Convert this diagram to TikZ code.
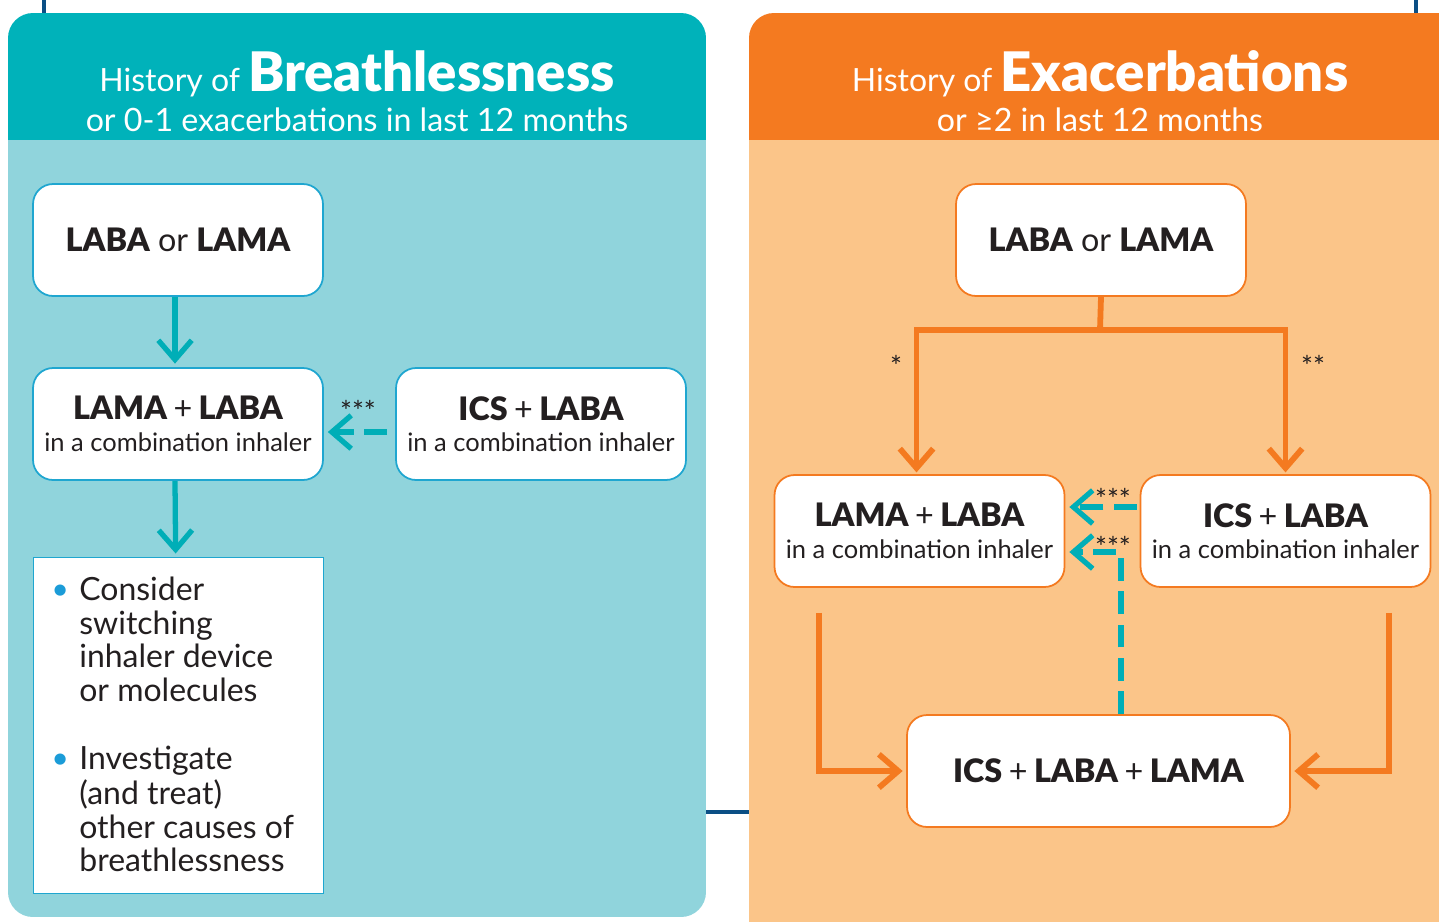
\documentclass[tikz,border=0pt]{standalone}
\usepackage{fontspec}
\setmainfont{Lato}
\IfFontExistsTF{Lato Black}{\newfontfamily\hvfam{Lato Black}}{\newfontfamily\hvfam{Lato}[UprightFont=*-Bold]}
\newcommand{\hv}[1]{{\hvfam #1}}
\usetikzlibrary{arrows.meta,calc}
\definecolor{tealH}{HTML}{00B2BA}
\definecolor{tealB}{HTML}{90D4DC}
\definecolor{orH}{HTML}{F47A20}
\definecolor{orB}{HTML}{FBC589}
\definecolor{tealA}{HTML}{00AEB7}
\definecolor{boxT}{HTML}{1FA6D0}
\definecolor{navy}{HTML}{0B4F85}
\definecolor{txt}{HTML}{231F20}
\definecolor{bul}{HTML}{1B9CD8}
\newcommand{\mybig}[1]{{\fontsize{18.4}{22}\selectfont #1}}
\newcommand{\mysmall}[1]{{\fontsize{14.5}{18}\selectfont #1}}
\newcommand{\pl}{\hspace{0.2em}+\hspace{0.2em}}
\begin{document}
\begin{tikzpicture}[x=0.02cm,y=-0.02cm,
  tbox/.style={draw=boxT, line width=1pt, fill=white, rounded corners=0.4cm, minimum width=5.8cm, minimum height=2.24cm, align=center, text=txt, inner sep=0pt},
  obox/.style={tbox, draw=orH},
  tarrow/.style={draw=tealA, line width=3pt, -{Straight Barb[length=11pt,width=19pt]}},
  tdash/.style={tarrow, dash pattern=on 13pt off 6pt},
  oarrow/.style={draw=orH, line width=3.3pt, line join=miter, -{Straight Barb[length=11pt,width=19pt]}},
  oline/.style={draw=orH, line width=3.3pt},
  star/.style={text=txt, font=\fontsize{16}{16}\selectfont, inner sep=0pt},
  htxt/.style={text=white, anchor=base, inner sep=0pt}
]
\useasboundingbox (0,0) rectangle (1439,921);
% navy lines
\draw[navy, line width=2.3pt] (44,0) -- (44,14);
\draw[navy, line width=2.3pt] (1416,0) -- (1416,14);
\draw[navy, line width=2.3pt] (700,812) -- (755,812);
% left panel
\begin{scope}
\clip[rounded corners=0.5cm] (8,13) rectangle (706,917);
\fill[tealH] (8,13) rectangle (706,140);
\fill[tealB] (8,140) rectangle (706,917);
\end{scope}
% right panel
\begin{scope}
\clip[rounded corners=0.5cm] (749,13) rectangle (1480,960);
\fill[orH] (749,13) rectangle (1480,140);
\fill[orB] (749,140) rectangle (1480,960);
\end{scope}
% headers
\node[htxt] (LH1) at (357,91) {{\fontsize{18.2}{20}\selectfont History of }{\fontsize{31}{32}\selectfont\hv{Breathlessness}}};
\node[htxt] (LH2) at (357,131) {\fontsize{18.3}{20}\selectfont or 0-1 exacerbations in last 12 months};
\node[htxt] (RH1) at (1100,91) {{\fontsize{18.2}{20}\selectfont History of }{\fontsize{31}{32}\selectfont\hv{Exacerbations}}};
\node[htxt] (RH2) at (1100,131) {\fontsize{18.3}{20}\selectfont or ≥2 in last 12 months};
% left boxes
\node[tbox] (A1) at (178,240) {\mybig{\hv{LABA} or \hv{LAMA}}};
\node[tbox] (A2) at (178,424) {\mybig{\hv{LAMA}\pl\hv{LABA}}\\[6pt]\mysmall{in a combination inhaler}};
\node[tbox] (A3) at (541,424) {\mybig{\hv{ICS}\pl\hv{LABA}}\\[6pt]\mysmall{in a combination inhaler}};
\node[draw=boxT, line width=0.8pt, fill=white, minimum width=5.8cm, minimum height=6.72cm, anchor=north west, inner sep=0pt] (A4) at (33,557) {};
\node[anchor=north west, inner sep=0pt, text=txt, align=left] (A4t) at ($(A4.north west)+(20,19)$) {\fontsize{18.2}{19.3}\selectfont
\begin{tabular}{@{}l@{\hspace{7pt}}l@{}}
\textcolor{bul}{\raisebox{1.5pt}{\fontsize{13}{10}\selectfont●}} & Consider\\
 & switching\\
 & inhaler device\\
 & or molecules\\[19pt]
\textcolor{bul}{\raisebox{1.5pt}{\fontsize{13}{10}\selectfont●}} & Investigate\\
 & (and treat)\\
 & other causes of\\
 & breathlessness
\end{tabular}};
% left arrows
\draw[tarrow, shorten >=2pt] ($(A1.south)+(-3,0)$) -- ($(A2.north)+(-3,0)$);
\draw[tarrow, shorten >=2pt] ($(A2.south)+(-3,0)$) -- ($(A4.north)+(-3,0)$);
\draw[tdash] ($(A3.west)+(-8,8)$) -- ($(A2.east)+(4,8)$);
\node[star] (S1) at (358,411) {***};
% right boxes
\node[obox] (B1) at (1101,240) {\mybig{\hv{LABA} or \hv{LAMA}}};
\node[obox] (B2) at (919.5,531) {\mybig{\hv{LAMA}\pl\hv{LABA}}\\[6pt]\mysmall{in a combination inhaler}};
\node[obox] (B3) at (1285.5,531) {\mybig{\hv{ICS}\pl\hv{LABA}}\\[6pt]\mysmall{in a combination inhaler}};
\node[obox, minimum width=7.66cm] (B4) at (1098.5,771) {\mybig{\hv{ICS}\pl\hv{LABA}\pl\hv{LAMA}}};
% orange connectors
\coordinate (fork) at (1100,330);
\draw[oline] (B1.south) -- (fork);
\draw[oarrow, shorten >=1pt] (fork) -| ($(B2.north)+(-3,0)$);
\draw[oarrow, shorten >=1pt] (fork) -| ($(B3.north)+(0,0)$);
\node[star] (S2) at (896,366) {*};
\node[star] (S3) at (1313,366) {**};
\draw[oarrow, shorten >=2pt] ($(B2.south west)+(45,25)$) |- (B4.west);
\draw[oarrow, shorten >=2pt] ($(B3.south east)+(-42,25)$) |- (B4.east);
% teal dashed on right
\draw[tdash] ($(B3.west)+(-3,-24)$) -- ($(B2.east)+(4,-24)$);
\node[star] (S4) at (1113,499) {***};
\draw[tdash] ($(B4.north)+(22.5,0)$) |- ($(B2.east)+(4,21)$);
\node[star] (S5) at (1113,547) {***};
\end{tikzpicture}
\end{document}
